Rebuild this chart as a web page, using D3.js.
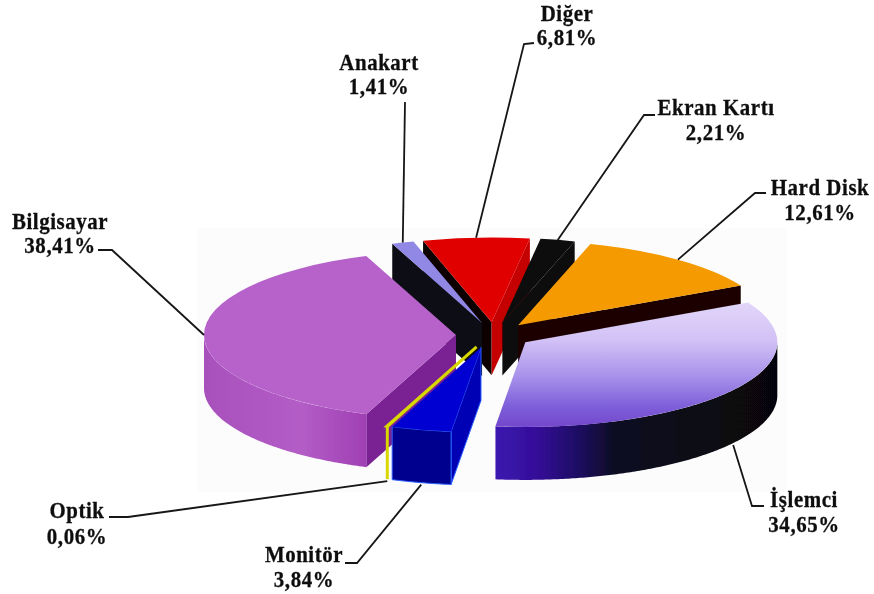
<!DOCTYPE html>
<html lang="tr">
<head>
<meta charset="UTF-8">
<title>Pay</title>
<script src="https://d3js.org/d3.v7.min.js"></script>
<style>
    html, body {margin: 0; padding: 0; background: #fff;}
    svg {display: block;}
    text {
        font-family: "Liberation Serif", serif;
        font-weight: bold;
        font-size: 22px;
        letter-spacing: .6px;
        fill: #111;
        stroke: #111;
        stroke-width: .3px;
        text-anchor: middle;
    }
</style>
</head>
<body>
<script>
    const categories = ["Bilgisayar", "Anakart", "Diğer", "Ekran Kartı", "Hard Disk", "İşlemci", "Monitör", "Optik"];
    const shares = [38.41, 1.41, 6.81, 2.21, 12.61, 34.65, 3.84, 0.06];

    const width = 874;
    const height = 594;

    // flattened pie: tilt squashes y, every slice is pushed out from the centre
    const cx = 494, cy = 335;
    const rx = 252, tilt = 0.336, depth = 53, explode = 38;

    const colors = {
        "Bilgisayar":  {top: "#b662ca", rim: "url(#purpleRim)", wall: "#7a2094"},
        "Anakart":     {top: "#9088e4", rim: "#0b0b12", wall: "#0b0b12"},
        "Diğer":       {top: "#e10000", rim: "#b00000", wall: "#0c0505", wall2: "#c40000"},
        "Ekran Kartı": {top: "#0a0a0a", rim: "#0a0a0a", wall: "#0a0a0a"},
        "Hard Disk":   {top: "#f59a00", rim: "#1e0606", wall: "#1e0606"},
        "İşlemci":     {top: "url(#cpuTop)", rim: "url(#cpuRim)", wall: "#0a0a14"},
        "Monitör":     {top: "#0000d2", rim: "#00008e", wall: "#0000b4", edge: "#2a60ff"},
        "Optik":       {top: "#d8d800", rim: "#d8d800", wall: "none"}
    };
    // back to front
    const drawOrder = ["Diğer", "Ekran Kartı", "Hard Disk", "Anakart", "Bilgisayar", "İşlemci", "Monitör", "Optik"];
    // these two sit a bit further left in the picture than the model puts them
    const nudge = {"Monitör": -4, "Optik": -4};

    // label centres and leader elbows, rim end of leader comes from the slice
    const labels = {
        "Diğer":       {x: 567, y: [21, 45],   elbow: [[534, 43], [524, 44]]},
        "Anakart":     {x: 379, y: [70, 94],   elbow: [[405, 102]]},
        "Ekran Kartı": {x: 716, y: [115, 140], elbow: [[655, 115], [644, 115]]},
        "Hard Disk":   {x: 820, y: [195, 220], elbow: [[766, 193], [755, 193]]},
        "Bilgisayar":  {x: 60,  y: [229, 253], elbow: [[98, 250], [112, 250]]},
        "İşlemci":     {x: 804, y: [507, 532], elbow: [[764, 506], [752, 506]]},
        "Monitör":     {x: 304, y: [562, 587], elbow: [[345, 563], [357, 563]]},
        "Optik":       {x: 77,  y: [518, 544], elbow: [[109, 517], [128, 517]]}
    };

    const svg = d3.select("body").append("svg")
            .attr("width", width).attr("height", height);

    const defs = svg.append("defs");
    defs.append("filter").attr("id", "soft")
            .attr("x", "-5%").attr("y", "-5%").attr("width", "110%").attr("height", "110%")
            .append("feGaussianBlur").attr("stdDeviation", 0.55);

    function gradient(id, vertical, stops) {
        const g = defs.append("linearGradient").attr("id", id)
                .attr("x1", 0).attr("y1", 0)
                .attr("x2", vertical ? 0 : 1).attr("y2", vertical ? 1 : 0);
        stops.forEach(s => g.append("stop").attr("offset", s[0]).attr("stop-color", s[1]));
    }
    gradient("cpuTop", true, [[0, "#e2d6fa"], [0.3, "#d2c2f6"], [0.6, "#a690ea"], [0.85, "#7c5cd8"], [1, "#7448cc"]]);
    gradient("cpuRim", false, [[0, "#3c14b0"], [0.15, "#341098"], [0.3, "#1c0b60"], [0.42, "#0e0a24"], [1, "#060608"]]);
    gradient("purpleRim", false, [[0, "#a850bc"], [0.6, "#b35cc6"], [1, "#a040b4"]]);

    // d3 angles start at 12 o'clock; the big slice has to sit centred on the left
    const startAngle = (180 - 69.15 + 90) * Math.PI / 180;
    const pie = d3.pie().sort(null)
            .startAngle(startAngle).endAngle(startAngle + 2 * Math.PI);
    const slices = pie(shares).map((d, i) => {
        const mid = (d.startAngle + d.endAngle) / 2;
        return {
            name: categories[i],
            value: shares[i],
            a0: d.startAngle,
            a1: d.endAngle,
            mid: mid,
            apex: project(mid, explode, [cx + (nudge[categories[i]] || 0), cy])
        };
    });

    function project(a, r, origin) {
        return [origin[0] + r * Math.sin(a), origin[1] - r * Math.cos(a) * tilt];
    }

    const chart = svg.append("g").attr("filter", "url(#soft)");

    // faint scan background behind the pie
    chart.append("rect")
            .attr("x", 197).attr("y", 228).attr("width", 590).attr("height", 264)
            .attr("fill", "#fcfcfc");

    const arcTop = d3.arc().innerRadius(0).outerRadius(rx);
    const line = d3.line();

    function wall(s, a, fill) {
        const p = project(a, rx, s.apex);
        chart.append("path")
                .attr("d", line([s.apex, p, [p[0], p[1] + depth], [s.apex[0], s.apex[1] + depth]]) + "Z")
                .attr("fill", fill)
                .attr("stroke", colors[s.name].edge || "none");
    }

    function drawSlice(s) {
        const c = colors[s.name];
        // a cut face only shows when it looks toward the viewer
        if (Math.cos(s.a0 - Math.PI / 2) < 0) wall(s, s.a0, c.wall);
        if (Math.cos(s.a1 + Math.PI / 2) < 0) wall(s, s.a1, c.wall2 || c.wall);

        // front part of the rim only
        const lo = Math.max(s.a0, Math.PI / 2), hi = Math.min(s.a1, 3 * Math.PI / 2);
        const lo2 = Math.max(s.a0, 2.5 * Math.PI), hi2 = Math.min(s.a1, 3.5 * Math.PI);
        [[lo, hi], [lo2, hi2]].filter(r => r[1] > r[0]).forEach(r => {
            const angles = d3.range(r[0], r[1], 0.01).concat([r[1]]);
            chart.append("path")
                    .attr("d", d3.area()
                        .x(a => project(a, rx, s.apex)[0])
                        .y0(a => project(a, rx, s.apex)[1])
                        .y1(a => project(a, rx, s.apex)[1] + depth)(angles))
                    .attr("fill", c.rim)
                    .attr("stroke", c.edge || "none");
        });

        chart.append("path")
                .attr("d", arcTop({startAngle: s.a0, endAngle: s.a1}))
                .attr("transform", `translate(${s.apex}) scale(1,${tilt})`)
                .attr("fill", c.top)
                .attr("stroke", s.name == "Optik" ? c.top : "none")
                .attr("stroke-width", 3)
                .attr("vector-effect", "non-scaling-stroke");

        // the sliver needs a visible front edge too
        if (s.name == "Optik") {
            const p = project(s.mid, rx, s.apex);
            chart.append("path")
                    .attr("d", line([p, [p[0], p[1] + depth]]))
                    .attr("stroke", c.top).attr("stroke-width", 3);
        }
    }

    drawOrder.map(n => slices.find(s => s.name == n)).forEach(drawSlice);

    slices.forEach(s => {
        const l = labels[s.name];
        const front = Math.cos(s.mid) < -0.1;
        const rim = project(s.mid, rx, s.apex);
        if (front) rim[1] += depth + 2;
        chart.append("path")
                .attr("d", line(l.elbow.concat([rim])))
                .attr("fill", "none")
                .attr("stroke", "#151515")
                .attr("stroke-width", 1.8);
        chart.append("text")
                .attr("transform", `translate(${l.x},${l.y[0]}) scale(.95,1.03)`)
                .text(s.name);
        chart.append("text")
                .attr("transform", `translate(${l.x},${l.y[1]}) scale(.95,1.03)`)
                .text(s.value.toFixed(2).replace(".", ",") + "%");
    });
</script>
</body>
</html>
